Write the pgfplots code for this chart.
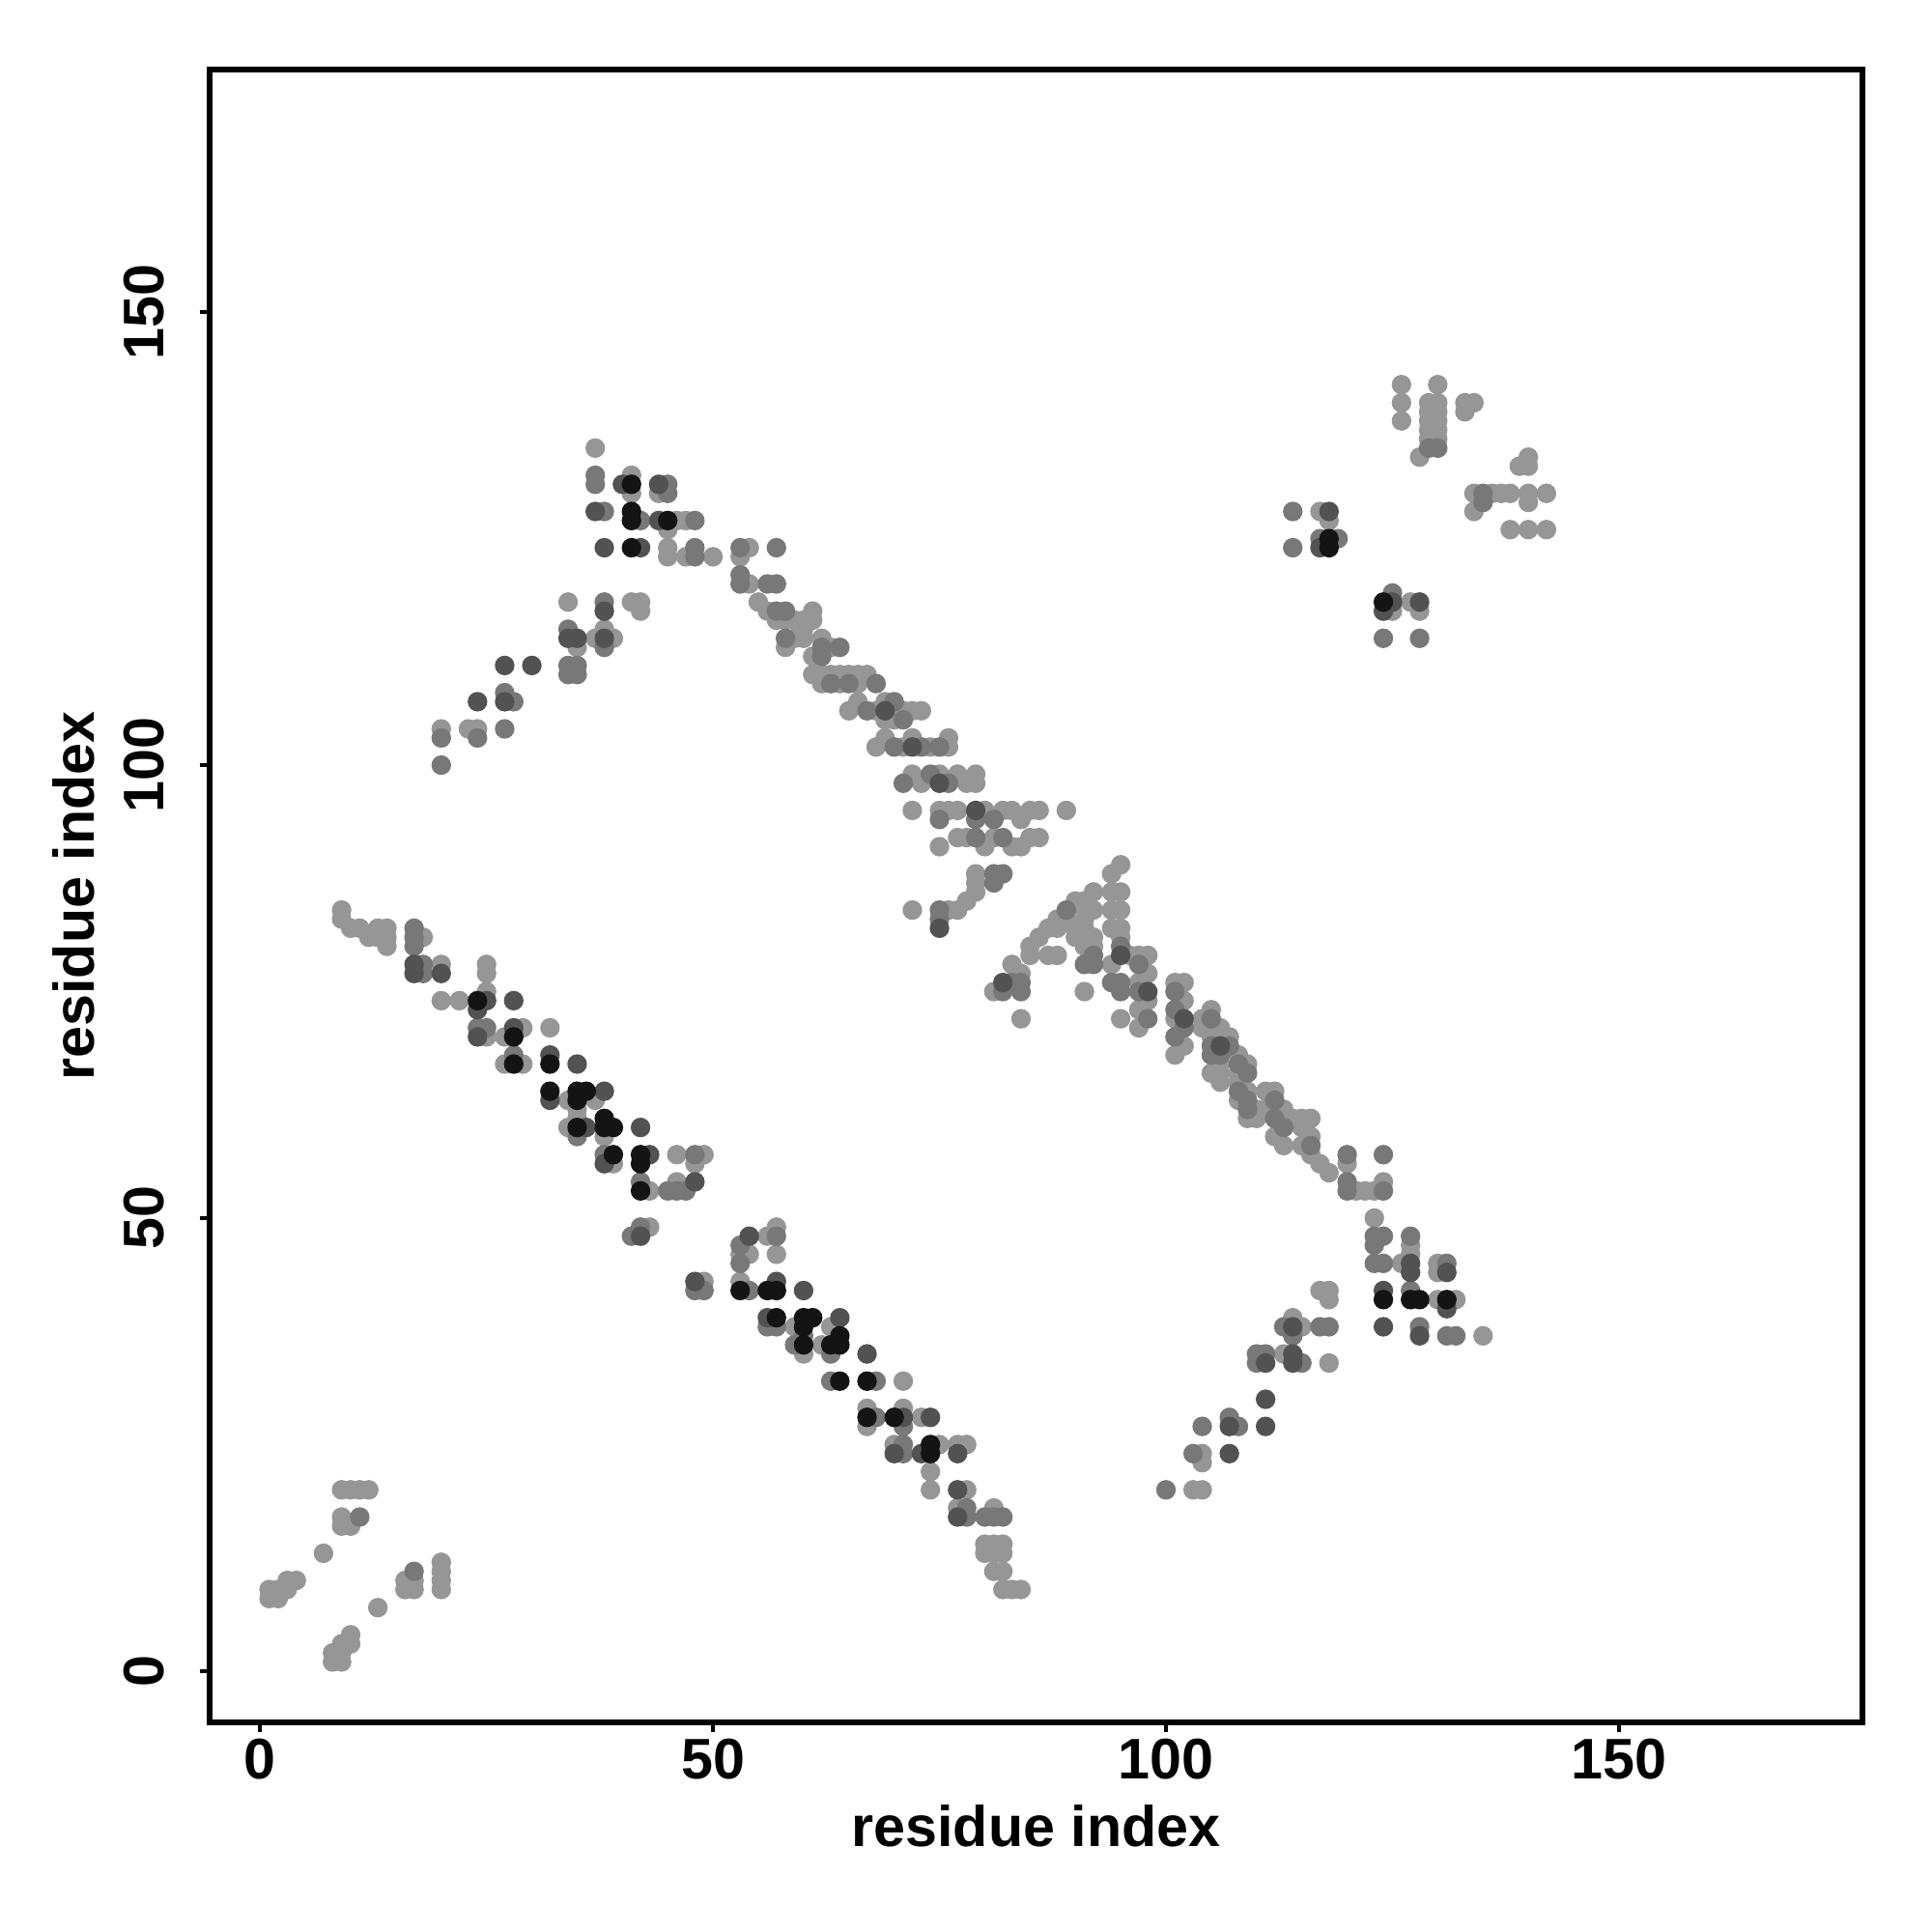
\documentclass[border=0pt]{standalone}
\usepackage{fontspec}
\setmainfont{Liberation Sans}
\usepackage{pgfplots}
\pgfplotsset{compat=1.18}
\definecolor{cL}{gray}{0.59}
\definecolor{cM}{gray}{0.47}
\definecolor{cD}{gray}{0.32}
\definecolor{cK}{gray}{0.08}
\begin{document}
\begin{tikzpicture}
\useasboundingbox (-1.517,-1.517) rectangle (12.483,12.483);
\begin{axis}[
 scale only axis, width=11.98cm, height=11.98cm,
 xmin=-5.6, xmax=176.9, ymin=-5.7, ymax=176.8,
 axis line style={line width=1.2pt},
 tick pos=left, tick align=outside, major tick length=2pt,
 every tick/.style={black, line width=0.8pt},
 xtick={0,50,100,150}, ytick={0,50,100,150},
 /pgf/number format/assume math mode=true,
 ticklabel style={font=\fontsize{11.8}{14}\selectfont\bfseries},
 xticklabel style={anchor=center, yshift=-0.195cm},
 yticklabel style={xshift=-0.40cm, rotate=90, anchor=center},
 xlabel={residue index}, ylabel={residue index},
 label style={font=\fontsize{11.8}{14}\selectfont\bfseries},
 xlabel style={at={(axis description cs:0.5,-0.0625)}, anchor=center},
 ylabel style={at={(axis description cs:-0.082,0.5)}, anchor=center},
 every axis plot/.append style={only marks, mark=*, mark size=1.82pt, mark options={line width=0pt}},
]
% light
\addplot[cL, mark options={draw=none, fill=cL}] coordinates {
(9,20)(10,20)(11,20)(12,20)(9,17)(9,16)(10,16)(7,13)(1,9)(1,8)(2,8)(2,9)(3,9)(3,10)(4,10)(13,7)(16,10)(16,9)(17,10)(17,9)(20,12)(20,11)(20,10)(20,9)(8,1)(8,2)(9,1)(9,2)(9,3)(10,3)(10,4)
(9,84)(9,83)(10,82)(11,82)(12,81)(13,82)(13,81)(14,82)(14,81)(14,80)(18,81)(20,78)(20,74)(22,74)(25,78)(25,77)(25,75)(25,70)(27,70)(29,71)(32,71)(27,67)(29,67)(34,63)(37,63)(35,62)(34,60)(38,59)(39,56)(46,57)(49,57)(48,56)(43,53)(46,54)(43,49)(35,61)
(49,43)(53,46)(54,46)(56,48)(57,49)(57,46)(53,43)(59,38)(63,38)(60,35)(62,36)(71,32)(67,29)(67,27)(71,29)(73,28)(70,25)(75,25)(77,25)(78,25)(74,22)(74,20)(78,20)(77,18)(81,18)(80,14)(81,14)(82,14)(80,13)(81,13)(82,13)(81,11)(82,11)(82,9)(83,9)(84,9)
(37,135)(41,132)(41,130)(44,130)(46,127)(47,127)(45,126)(45,124)(45,123)(47,123)(50,123)(54,124)(53,123)(54,120)(55,118)(34,118)(41,118)(42,118)(42,117)(35,113)(37,114)(38,115)(39,114)(20,104)(23,104)(24,104)
(56,117)(57,116)(58,116)(59,116)(60,116)(61,117)(61,116)(60,115)(58,113)(59,114)(60,114)(61,112)(62,114)(63,113)(61,110)(62,110)(63,110)(64,110)(65,110)(66,110)(67,110)(62,109)(64,109)(66,109)(65,106)(66,107)(68,106)(69,107)(71,106)(72,106)(73,106)(69,105)(70,105)(68,102)(69,103)(71,102)(72,103)(74,102)(76,103)(76,102)(72,99)(73,98)(75,99)(77,99)(78,98)(79,99)(79,98)(72,95)(75,95)(76,95)(77,95)(80,95)(82,95)(83,95)(84,94)(85,95)(86,95)(89,95)(75,91)(77,92)(78,92)(80,91)(81,92)(83,91)(84,91)(85,92)(86,92)(79,88)(79,87)(72,84)(76,84)(77,84)(78,85)(79,86)
(95,89)(94,88)(92,86)(94,86)(95,86)(94,84)(95,84)(90,85)(91,85)(91,84)(92,84)(91,83)(88,83)(89,83)(87,82)(88,82)(86,81)(85,80)(85,79)(87,79)(88,79)(83,78)(84,77)(81,75)(84,72)(91,75)(90,82)(91,82)(92,81)(90,81)(91,80)(92,80)(94,82)(95,81)(95,82)(96,79)(94,78)(95,72)(97,79)(98,79)(98,77)(97,76)(98,74)(97,73)(97,71)(101,76)(102,76)(102,74)(101,72)(102,69)(101,68)(105,73)(104,72)(106,71)(105,70)(106,67)(105,66)(108,68)(108,65)(109,64)(108,63)(110,61)(111,62)
(104,71)(107,70)(106,66)(106,65)(108,66)(109,67)(110,62)(109,61)(111,64)(112,64)(113,62)(112,59)(113,58)(114,61)(115,61)(116,61)(115,60)(116,59)(115,58)(116,57)(117,56)(118,55)(120,56)(121,53)(122,53)(123,53)(124,54)(123,50)(127,47)(127,46)(126,45)(130,45)(130,44)(117,42)(118,42)(118,41)(130,41)(132,41)(135,37)(114,39)(115,38)(113,35)(118,34)(103,20)(104,20)(104,24)(104,23)
(126,142)(126,140)(126,138)(130,142)(129,140)(130,140)(129,139)(130,139)(129,138)(130,138)(129,137)(130,137)(129,136)(130,136)(128,134)(133,140)(134,140)(133,139)(140,134)(140,133)(139,133)(134,130)(136,130)(137,130)(138,130)(134,128)(140,130)(140,129)(142,130)(138,126)(140,126)(142,126)(117,128)(118,127)(125,117)(127,118)(128,117)
};
% mid
\addplot[cM, mark options={draw=none, fill=cM}] coordinates {
(11,17)(17,11)
(17,82)(17,81)(17,80)(18,78)(18,77)(24,71)(25,71)(28,68)(35,59)(38,57)(48,57)(45,53)(46,53)(47,53)(41,48)(42,49)(42,54)
(48,42)(49,42)(53,47)(53,45)(57,48)(54,42)(56,38)(57,38)(59,36)(60,37)(63,35)(63,32)(68,32)(68,28)(71,27)(71,25)(71,24)(78,18)(78,17)(80,17)(81,17)(82,17)
(37,132)(37,131)(38,128)(42,127)(45,131)(45,130)(48,127)(48,124)(48,123)(53,124)(53,121)(53,120)(38,118)(34,115)(38,113)(34,111)(34,110)(35,111)(35,110)(27,108)(28,107)(20,103)(24,103)(27,104)(20,100)(57,124)(56,120)(57,120)
(58,117)(57,117)(58,114)(62,113)(64,113)(62,112)(63,109)(65,109)(68,109)(67,106)(70,107)(71,105)(70,102)(73,102)(75,102)(71,98)(74,99)(76,98)(75,94)(79,94)(81,94)(79,92)(82,92)(81,88)(82,88)(75,84)(75,83)(81,87)
(83,76)(84,76)(84,75)(82,75)(92,79)(91,78)(92,78)(94,76)(95,76)(95,75)(95,80)(97,78)(97,75)(98,72)(101,75)(101,73)(101,70)(102,71)(105,72)(105,68)(108,67)(109,66)(109,62)(89,84)
(105,69)(106,68)(107,69)(108,64)(109,63)(112,63)(112,61)(113,60)(116,58)(120,57)(120,54)(120,53)(124,53)(124,57)(123,48)(124,48)(123,47)(127,48)(123,45)(124,45)(131,45)(127,42)(128,38)(131,37)(132,37)(113,38)(114,37)(117,38)(118,38)(110,35)(111,35)(110,34)(115,34)(104,27)(107,28)(108,27)(103,24)(100,20)
(130,135)(129,135)(135,130)(135,129)(114,128)(114,124)(117,125)(119,125)(124,114)(128,114)(125,119)
};
% dark
\addplot[cD, mark options={draw=none, fill=cD}] coordinates {
(17,78)(17,77)(20,77)(24,73)(28,74)(24,70)(28,71)(32,68)(35,67)(32,63)(38,64)(36,60)(42,60)(43,57)(48,54)(42,48)(25,74)(38,56)
(48,43)(54,48)(57,43)(60,42)(56,39)(64,39)(67,35)(71,28)(74,28)(70,24)(73,24)(77,24)(77,20)(77,17)
(40,131)(44,131)(37,128)(44,127)(38,124)(42,124)(38,117)(34,114)(35,114)(38,114)(27,111)(30,111)(24,107)(27,107)
(69,106)(72,102)(75,98)(79,95)(75,82)
(82,76)(95,79)(98,75)(102,72)(106,69)
(127,45)(127,44)(131,44)(124,42)(131,40)(124,38)(128,37)(114,38)(111,34)(114,35)(114,34)(111,30)(111,27)(107,27)(107,24)
(118,128)(117,124)(124,117)(125,118)(128,118)
};
% black
\addplot[cK, mark options={draw=none, fill=cK}] coordinates {
(24,74)(28,70)(28,67)(32,67)(32,64)(35,64)(36,64)(35,63)(35,60)(38,61)(39,60)(38,60)(39,57)(42,57)(42,56)(42,53)
(53,42)(56,42)(57,42)(57,39)(60,39)(60,38)(61,39)(60,36)(63,36)(64,37)(64,36)(64,32)(67,32)(67,28)(70,28)(74,25)(74,24)
(41,131)(41,128)(41,127)(45,127)(41,124)
(124,41)(127,41)(128,41)(131,41)
(118,125)(118,124)(124,118)
};
\end{axis}
\end{tikzpicture}
\end{document}
